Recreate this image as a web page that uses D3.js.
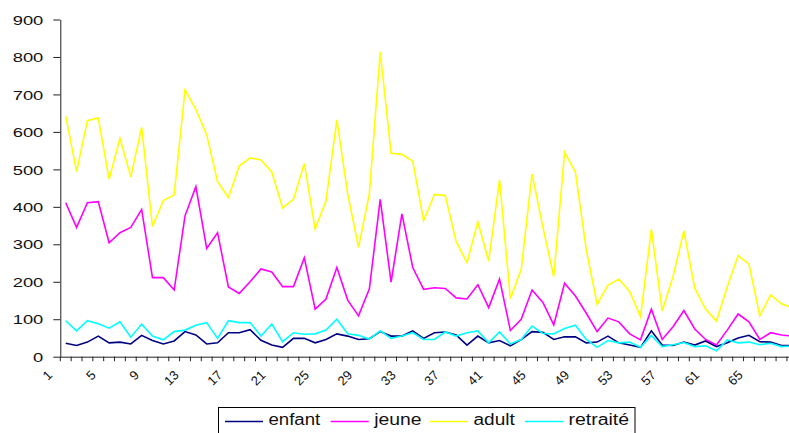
<!DOCTYPE html>
<html>
<head>
<meta charset="utf-8">
<script src="https://cdn.jsdelivr.net/npm/d3@7"></script>
<style>
  html, body { margin: 0; padding: 0; background: #fff; }
  svg { display: block; font-family: Arial, "Liberation Sans", sans-serif; }
</style>
</head>
<body>
<svg id="chart" width="789" height="433"></svg>
<script>
// ---- data ----
const categories = d3.range(1, 69);
const xTickLabels = ["1","5","9","13","17","21","25","29","33","37","41","45","49","53","57","61","65"];
const yTickValues = [0,100,200,300,400,500,600,700,800,900];
const seriesNames = ["enfant","jeune","adult","retraité"];
const seriesColors = ["#000080","#FF00FF","#FFFF00","#00FFFF"];

const enfant = [36,30,39,55,37,39,34,57,43,34, 42,67,58,34,37,64,64,72,44,31, 25,49,49,37,46,61,55,46,48,67,
  55,55,69,49,64,66,58,31,55,37, 43,29,46,67,65,46,53,53,37,39, 55,37,31,25,69,31,30,39,31,42, 27,37,50,57,40,39,30,30];
const jeune = [411,345,411,414,304,331,345,393,211,211, 178,376,454,289,331,186,169,200,234,226, 187,187,264,127,154,238,151,109,181,420,
  199,381,238,180,184,182,157,154,192,131, 207,70,100,178,145,85,196,162,116,67, 103,93,61,45,127,46,80,123,74,46, 31,71,114,93,46,64,58,55];
const adult = [642,494,630,637,474,583,480,612,347,417, 432,712,660,592,467,425,509,531,525,493, 397,420,516,341,416,632,435,292,436,814,
  543,540,522,363,433,430,307,251,360,255, 472,155,233,488,345,214,546,492,285,140, 191,207,174,107,340,122,214,336,183,127, 95,187,270,247,109,165,141,130];
const retraite = [96,69,96,88,76,93,52,87,55,45, 67,71,84,91,49,96,91,91,55,87, 40,64,60,61,71,100,61,57,47,69,
  49,55,64,46,46,66,55,64,69,37, 66,34,46,82,62,61,75,84,46,25, 43,37,39,25,57,27,32,38,27,29, 16,45,37,39,32,36,27,28];
const seriesValues = [enfant, jeune, adult, retraite];

// ---- layout ----
const svg = d3.select("#chart");
const plotLeft = 60.3, step = 10.845, plotTop = 19.5, plotBottom = 356.7;

const x = d3.scaleBand().domain(categories).range([plotLeft, plotLeft + step * categories.length]).padding(0);
const y = d3.scaleLinear().domain([0, 900]).range([plotBottom, plotTop]);
const cx = c => x(c) + x.bandwidth() / 2;

// series lines
const line = d3.line().x((d, i) => cx(categories[i])).y(d => y(d));
seriesValues.forEach((vals, k) => {
  svg.append("path")
    .datum(vals)
    .attr("fill", "none")
    .attr("stroke", seriesColors[k])
    .attr("stroke-width", 1.6)
    .attr("stroke-linejoin", "miter")
    .attr("d", line);
});

// y axis
const yAxis = d3.axisLeft(y).tickValues(yTickValues).tickSize(7).tickSizeOuter(0).tickFormat(d3.format("d"));
const gy = svg.append("g").attr("transform", `translate(${plotLeft},0)`).call(yAxis);
gy.attr("font-family", null).attr("font-size", null);
gy.select(".domain").attr("stroke", "#222");
gy.selectAll(".tick line").attr("stroke", "#222");
gy.selectAll(".tick text")
  .attr("x", -17)
  .attr("dy", "0.36em")
  .attr("fill", "#111")
  .style("font-size", "13px")
  .attr("textLength", d => String(d).length * 10.2)
  .attr("lengthAdjust", "spacingAndGlyphs");

// x axis line
const xAxis = d3.axisBottom(x).tickSize(0).tickFormat("");
const gx = svg.append("g").attr("transform", `translate(0,${plotBottom})`).call(xAxis);
gx.select(".domain").attr("stroke", "#222");
gx.selectAll(".tick").remove();

// x tick marks at category boundaries
const bounds = categories.map(c => x(c)).concat([x(categories[categories.length - 1]) + x.bandwidth()]);
svg.append("g").selectAll("line").data(bounds).join("line")
  .attr("x1", d => d).attr("x2", d => d)
  .attr("y1", plotBottom).attr("y2", plotBottom + 4.5)
  .attr("stroke", "#222").attr("stroke-width", 1);

// x tick labels (rotated)
svg.append("g").selectAll("text").data(xTickLabels).join("text")
  .attr("transform", d => `translate(${cx(+d) - 9 - 3.6 * d.length},376) rotate(-45)`)
  .attr("text-anchor", "end")
  .attr("fill", "#111")
  .style("font-size", "13px")
  .text(d => d);

// legend
const lg = svg.append("g");
lg.append("rect").attr("x", 218.5).attr("y", 407.5).attr("width", 416.5).attr("height", 30)
  .attr("fill", "#fff").attr("stroke", "#000").attr("stroke-width", 1);
const lineStarts = [225, 330.7, 430, 525];
const textWidths = [51.7, 47.3, 41.3, 60.6];
seriesNames.forEach((name, k) => {
  const x0 = lineStarts[k];
  lg.append("line").attr("x1", x0).attr("x2", x0 + 38).attr("y1", 421.5).attr("y2", 421.5)
    .attr("stroke", seriesColors[k]).attr("stroke-width", 1.6);
  lg.append("text").attr("x", x0 + 43.5).attr("y", 424.5)
    .attr("fill", "#111")
    .style("font-size", "16px")
    .attr("textLength", textWidths[k])
    .attr("lengthAdjust", "spacingAndGlyphs")
    .text(name);
});
</script>
</body>
</html>
